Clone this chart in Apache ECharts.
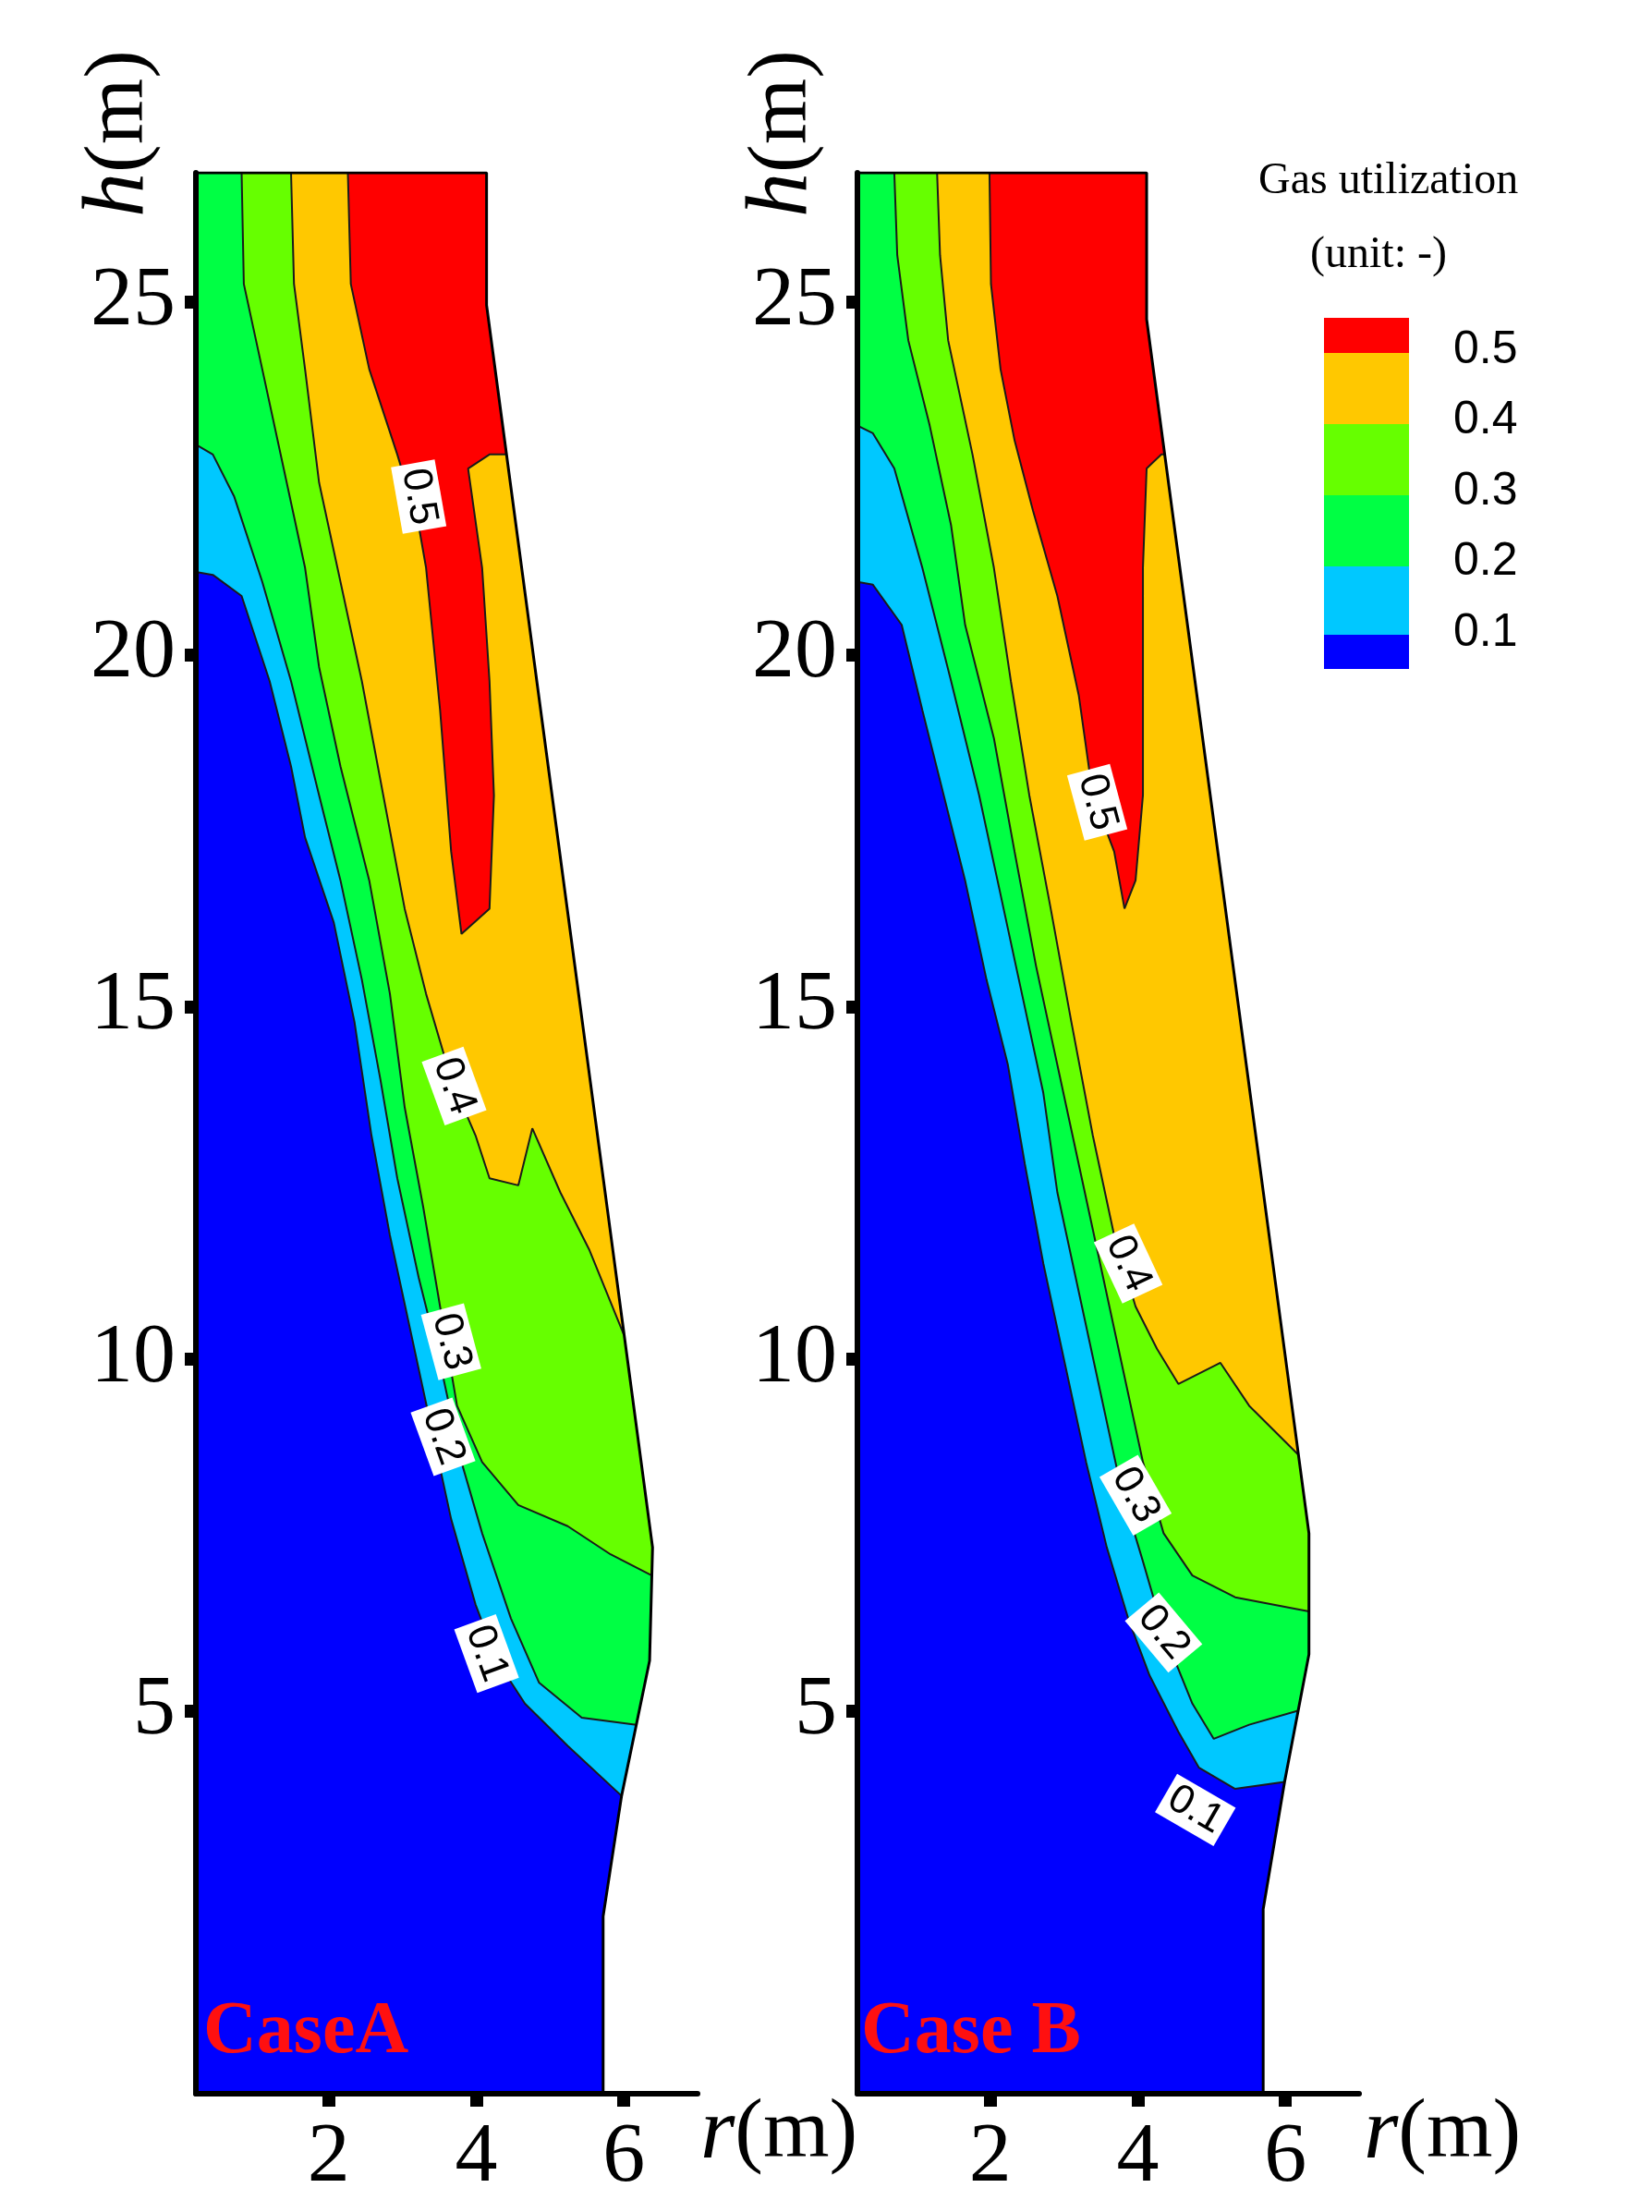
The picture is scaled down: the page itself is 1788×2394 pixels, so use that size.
<!DOCTYPE html>
<html>
<head>
<meta charset="utf-8">
<script src="https://cdn.jsdelivr.net/npm/echarts@6/dist/echarts.min.js"></script>
<style>html,body{margin:0;padding:0;background:#fff}#chart{width:1788px;height:2394px}</style>
</head>
<body>
<div id="chart"></div>
<script>
// contour levels and fill colours (lowest band is the domain fill)
const levels = ['0.1', '0.2', '0.3', '0.4', '0.5'];
const baseColor = '#0000ff';
const bandColors = ['#00c8ff', '#00ff44', '#66ff00', '#ffc800', '#ff0000'];
const hTicks = [5, 10, 15, 20, 25];
const rTicks = [2, 4, 6];
const rMin = 0.2, hMin = -0.44, hTop = 26.84;

// furnace wall (r, h), bottom to top
const wallA = [[5.72,-0.44],[5.72,2.08],[5.97,3.79],[6.35,5.71],[6.39,7.32],[4.14,24.96],[4.14,26.84]];
const wallB = [[5.70,-0.44],[5.70,2.18],[5.99,3.99],[6.32,5.80],[6.32,7.52],[4.12,24.76],[4.12,26.84]];

// Case A contour lines (r, h)
const a01 = [[0.2,21.17],[0.43,21.13],[0.82,20.83],[1.20,19.62],[1.49,18.41],[1.68,17.40],[2.07,16.19],[2.35,14.78],[2.58,13.17],[2.83,11.75],[3.12,10.34],[3.41,8.93],[3.66,7.72],[3.99,6.51],[4.28,5.71],[4.66,5.10],[5.24,4.50],[5.97,3.79]];
const a02 = [[0.2,22.98],[0.43,22.84],[0.72,22.24],[1.10,21.03],[1.49,19.62],[1.87,18.00],[2.16,16.79],[2.45,15.38],[2.70,13.97],[2.93,12.56],[3.22,11.15],[3.51,9.94],[3.80,8.53],[4.08,7.52],[4.47,6.31],[4.85,5.40],[5.43,4.90],[6.17,4.80]];
const a03 = [[0.82,26.84],[0.85,25.26],[1.10,24.05],[1.39,22.64],[1.68,21.23],[1.87,19.82],[2.16,18.41],[2.55,16.79],[2.83,15.18],[3.03,13.57],[3.28,12.16],[3.51,10.74],[3.74,9.33],[4.08,8.53],[4.57,7.92],[5.24,7.62],[5.82,7.22],[6.38,6.92]];
const a04 = [[1.49,26.84],[1.53,25.26],[1.68,24.05],[1.87,22.44],[2.16,21.03],[2.45,19.62],[2.74,18.00],[3.03,16.39],[3.32,15.18],[3.66,13.97],[3.99,13.17],[4.18,12.56],[4.57,12.46],[4.76,13.27],[5.14,12.36],[5.53,11.55],[6.00,10.34]];
const a05 = [[2.26,26.84],[2.30,25.26],[2.55,24.05],[2.93,22.84],[3.22,21.83],[3.32,21.23],[3.51,19.21],[3.66,17.20],[3.80,16.03],[4.18,16.39],[4.24,18.00],[4.18,19.62],[4.08,21.23],[3.89,22.64],[4.18,22.84],[4.41,22.84]];

// Case B contour lines (r, h)
const b01 = [[0.2,21.03],[0.41,20.99],[0.80,20.42],[1.08,19.21],[1.37,18.00],[1.66,16.79],[1.95,15.38],[2.24,14.17],[2.47,12.76],[2.72,11.35],[3.01,9.94],[3.30,8.53],[3.58,7.32],[3.87,6.31],[4.16,5.50],[4.55,4.70],[4.83,4.19],[5.32,3.89],[5.99,3.99]];
const b02 = [[0.2,23.25],[0.41,23.14],[0.70,22.64],[1.08,21.23],[1.47,19.62],[1.85,18.00],[2.14,16.59],[2.43,15.18],[2.72,13.77],[2.91,12.36],[3.20,10.95],[3.49,9.54],[3.78,8.13],[4.07,7.12],[4.35,6.11],[4.74,5.10],[5.03,4.60],[5.51,4.80],[6.17,5.00]];
const b03 = [[0.70,26.84],[0.74,25.67],[0.89,24.46],[1.18,23.25],[1.47,21.83],[1.66,20.42],[2.05,18.81],[2.33,17.20],[2.62,15.58],[2.91,14.17],[3.20,12.76],[3.49,11.35],[3.78,9.94],[4.07,8.53],[4.35,7.52],[4.74,6.92],[5.32,6.61],[6.32,6.41]];
const b04 = [[1.28,26.84],[1.32,25.67],[1.43,24.46],[1.76,22.84],[2.05,21.23],[2.28,19.62],[2.53,18.00],[2.82,16.39],[3.10,14.78],[3.39,13.17],[3.68,11.75],[3.97,10.74],[4.26,10.14],[4.55,9.64],[5.12,9.94],[5.51,9.33],[6.18,8.63]];
const b05 = [[1.99,26.84],[2.01,25.26],[2.14,24.05],[2.33,23.04],[2.58,22.04],[2.91,20.83],[3.20,19.42],[3.39,18.00],[3.68,17.20],[3.82,16.39],[3.97,16.79],[4.07,18.00],[4.07,19.62],[4.07,21.23],[4.12,22.64],[4.32,22.84],[4.37,22.84]];

// contour label positions [r, h, rotation]
const labelsA = [[3.22,22.24,-80],[3.70,13.87,-70],[3.66,10.24,-75],[3.55,8.89,-70],[4.14,5.81,-70]];
const labelsA_txt = ['0.5','0.4','0.3','0.2','0.1'];
const labelsB = [[3.45,17.9,-75],[3.87,11.35,-65],[3.97,8.06,-60],[4.35,6.11,-50],[4.78,3.59,-30]];
const labelsB_txt = ['0.5','0.4','0.3','0.2','0.1'];

const chart = echarts.init(document.getElementById('chart'));

function regionOf(line, wall) {
    const pts = line.slice();
    const endH = line[line.length - 1][1];
    wall.forEach(p => { if (p[1] > endH + 0.01) pts.push(p); });
    if (line[0][0] <= rMin + 0.01) pts.push([rMin, hTop]);
    return pts;
}

function panelSeries(idx, wall, lines, labels, labelTxt) {
    const domain = [[rMin, hMin]].concat(wall, [[rMin, hTop]]);
    const polys = [domain].concat(lines.map(l => regionOf(l, wall)));
    const colors = [baseColor].concat(bandColors);
    const out = [];
    out.push({
        type: 'custom', xAxisIndex: idx, yAxisIndex: idx, clip: true, z: 1,
        data: polys.map((p, i) => i),
        renderItem: (params, api) => {
            const i = params.dataIndex;
            return {
                type: 'polygon',
                shape: { points: polys[i].map(p => api.coord(p)) },
                style: { fill: colors[i], stroke: null }
            };
        }
    });
    lines.forEach(l => out.push({
        type: 'line', xAxisIndex: idx, yAxisIndex: idx, data: l, symbol: 'none',
        lineStyle: { color: '#1a1a1a', width: 2 }, silent: true, z: 3
    }));
    // wall + top outline
    out.push({
        type: 'line', xAxisIndex: idx, yAxisIndex: idx, symbol: 'none', z: 4,
        data: [[rMin, hTop]].concat(wall.slice().reverse()),
        lineStyle: { color: '#000', width: 3 }
    });
    out.push({
        type: 'custom', xAxisIndex: idx, yAxisIndex: idx, z: 6,
        data: labels.map((p, i) => i),
        renderItem: (params, api) => {
            const p = labels[params.dataIndex];
            const c = api.coord([p[0], p[1]]);
            return {
                type: 'text', x: c[0], y: c[1], rotation: p[2] * Math.PI / 180,
                style: {
                    text: labelTxt[params.dataIndex], fill: '#000',
                    font: '44px "Liberation Sans"', align: 'center', verticalAlign: 'middle',
                    backgroundColor: '#fff', padding: [2, 6]
                }
            };
        }
    });
    return out;
}

const serif = 'Liberation Serif';
function axesFor(left) {
    return {
        x: {
            type: 'value', gridIndex: left, min: rMin, max: 7,
            axisLine: { show: true, onZero: false, lineStyle: { color: '#000', width: 6 } },
            axisTick: { show: true, customValues: rTicks, length: 14, lineStyle: { width: 14, color: '#000' } },
            axisLabel: { customValues: rTicks, color: '#000', fontFamily: serif, fontSize: 92, margin: 24 },
            splitLine: { show: false }, z: 8
        },
        y: {
            type: 'value', gridIndex: left, min: hMin, max: hTop,
            axisLine: { show: true, onZero: false, lineStyle: { color: '#000', width: 6 } },
            axisTick: { show: true, customValues: hTicks, length: 12, lineStyle: { width: 14, color: '#000' } },
            axisLabel: { customValues: hTicks, color: '#000', fontFamily: serif, fontSize: 92, margin: 22 },
            splitLine: { show: false }, z: 8
        }
    };
}
const axA = axesFor(0), axB = axesFor(1);

// legend graphics
const legendG = [];
const lgX = 1433, lgTop = 344, lgW = 92;
const boxH = [38, 77, 77, 77, 74, 37];
const boxC = ['#ff0000', '#ffc800', '#66ff00', '#00ff44', '#00c8ff', '#0000ff'];
let yy = lgTop;
boxH.forEach((h, i) => {
    legendG.push({ type: 'rect', left: lgX, top: yy, shape: { width: lgW, height: h }, style: { fill: boxC[i] } });
    yy += h;
});
const legLab = ['0.5', '0.4', '0.3', '0.2', '0.1'];
legLab.forEach((t, i) => {
    legendG.push({ type: 'text', left: 1573, top: lgTop + 38 + i * 76.5 - 28,
        style: { text: t, font: '50px "Liberation Sans"', fill: '#000' } });
});

const axisRich = { i: { fontStyle: 'italic', fontFamily: serif, fontSize: 96 }, n: { fontFamily: serif, fontSize: 92 } };
const option = {
    animation: false,
    backgroundColor: '#fff',
    grid: [
        { left: 212, top: 187, width: 543, height: 2079 },
        { left: 928, top: 187, width: 543, height: 2079 }
    ],
    xAxis: [axA.x, axB.x],
    yAxis: [axA.y, axB.y],
    series: [].concat(
        panelSeries(0, wallA, [a01, a02, a03, a04, a05], labelsA, labelsA_txt),
        panelSeries(1, wallB, [b01, b02, b03, b04, b05], labelsB, labelsB_txt)
    ),
    graphic: [
        { type: 'text', x: 82, y: 235, rotation: Math.PI / 2,
          style: { text: '{i|h}{n|(m)}', rich: axisRich, fill: '#000' } },
        { type: 'text', x: 800, y: 235, rotation: Math.PI / 2,
          style: { text: '{i|h}{n|(m)}', rich: axisRich, fill: '#000' } },
        { type: 'text', left: 758, top: 2262, style: { text: '{i|r}{n|(m)}', rich: axisRich, fill: '#000' } },
        { type: 'text', left: 1476, top: 2262, style: { text: '{i|r}{n|(m)}', rich: axisRich, fill: '#000' } },
        { type: 'text', left: 220, top: 2160, z: 10, style: { text: 'CaseA', font: 'bold 80px "Liberation Serif"', fill: '#ff1010' } },
        { type: 'text', left: 932, top: 2160, z: 10, style: { text: 'Case B', font: 'bold 80px "Liberation Serif"', fill: '#ff1010' } },
        { type: 'text', left: 1362, top: 172, style: { text: 'Gas utilization', font: '48px "Liberation Serif"', fill: '#000' } },
        { type: 'text', left: 1418, top: 252, style: { text: '(unit: -)', font: '48px "Liberation Serif"', fill: '#000' } }
    ].concat(legendG)
};
chart.setOption(option);
</script>
</body>
</html>
